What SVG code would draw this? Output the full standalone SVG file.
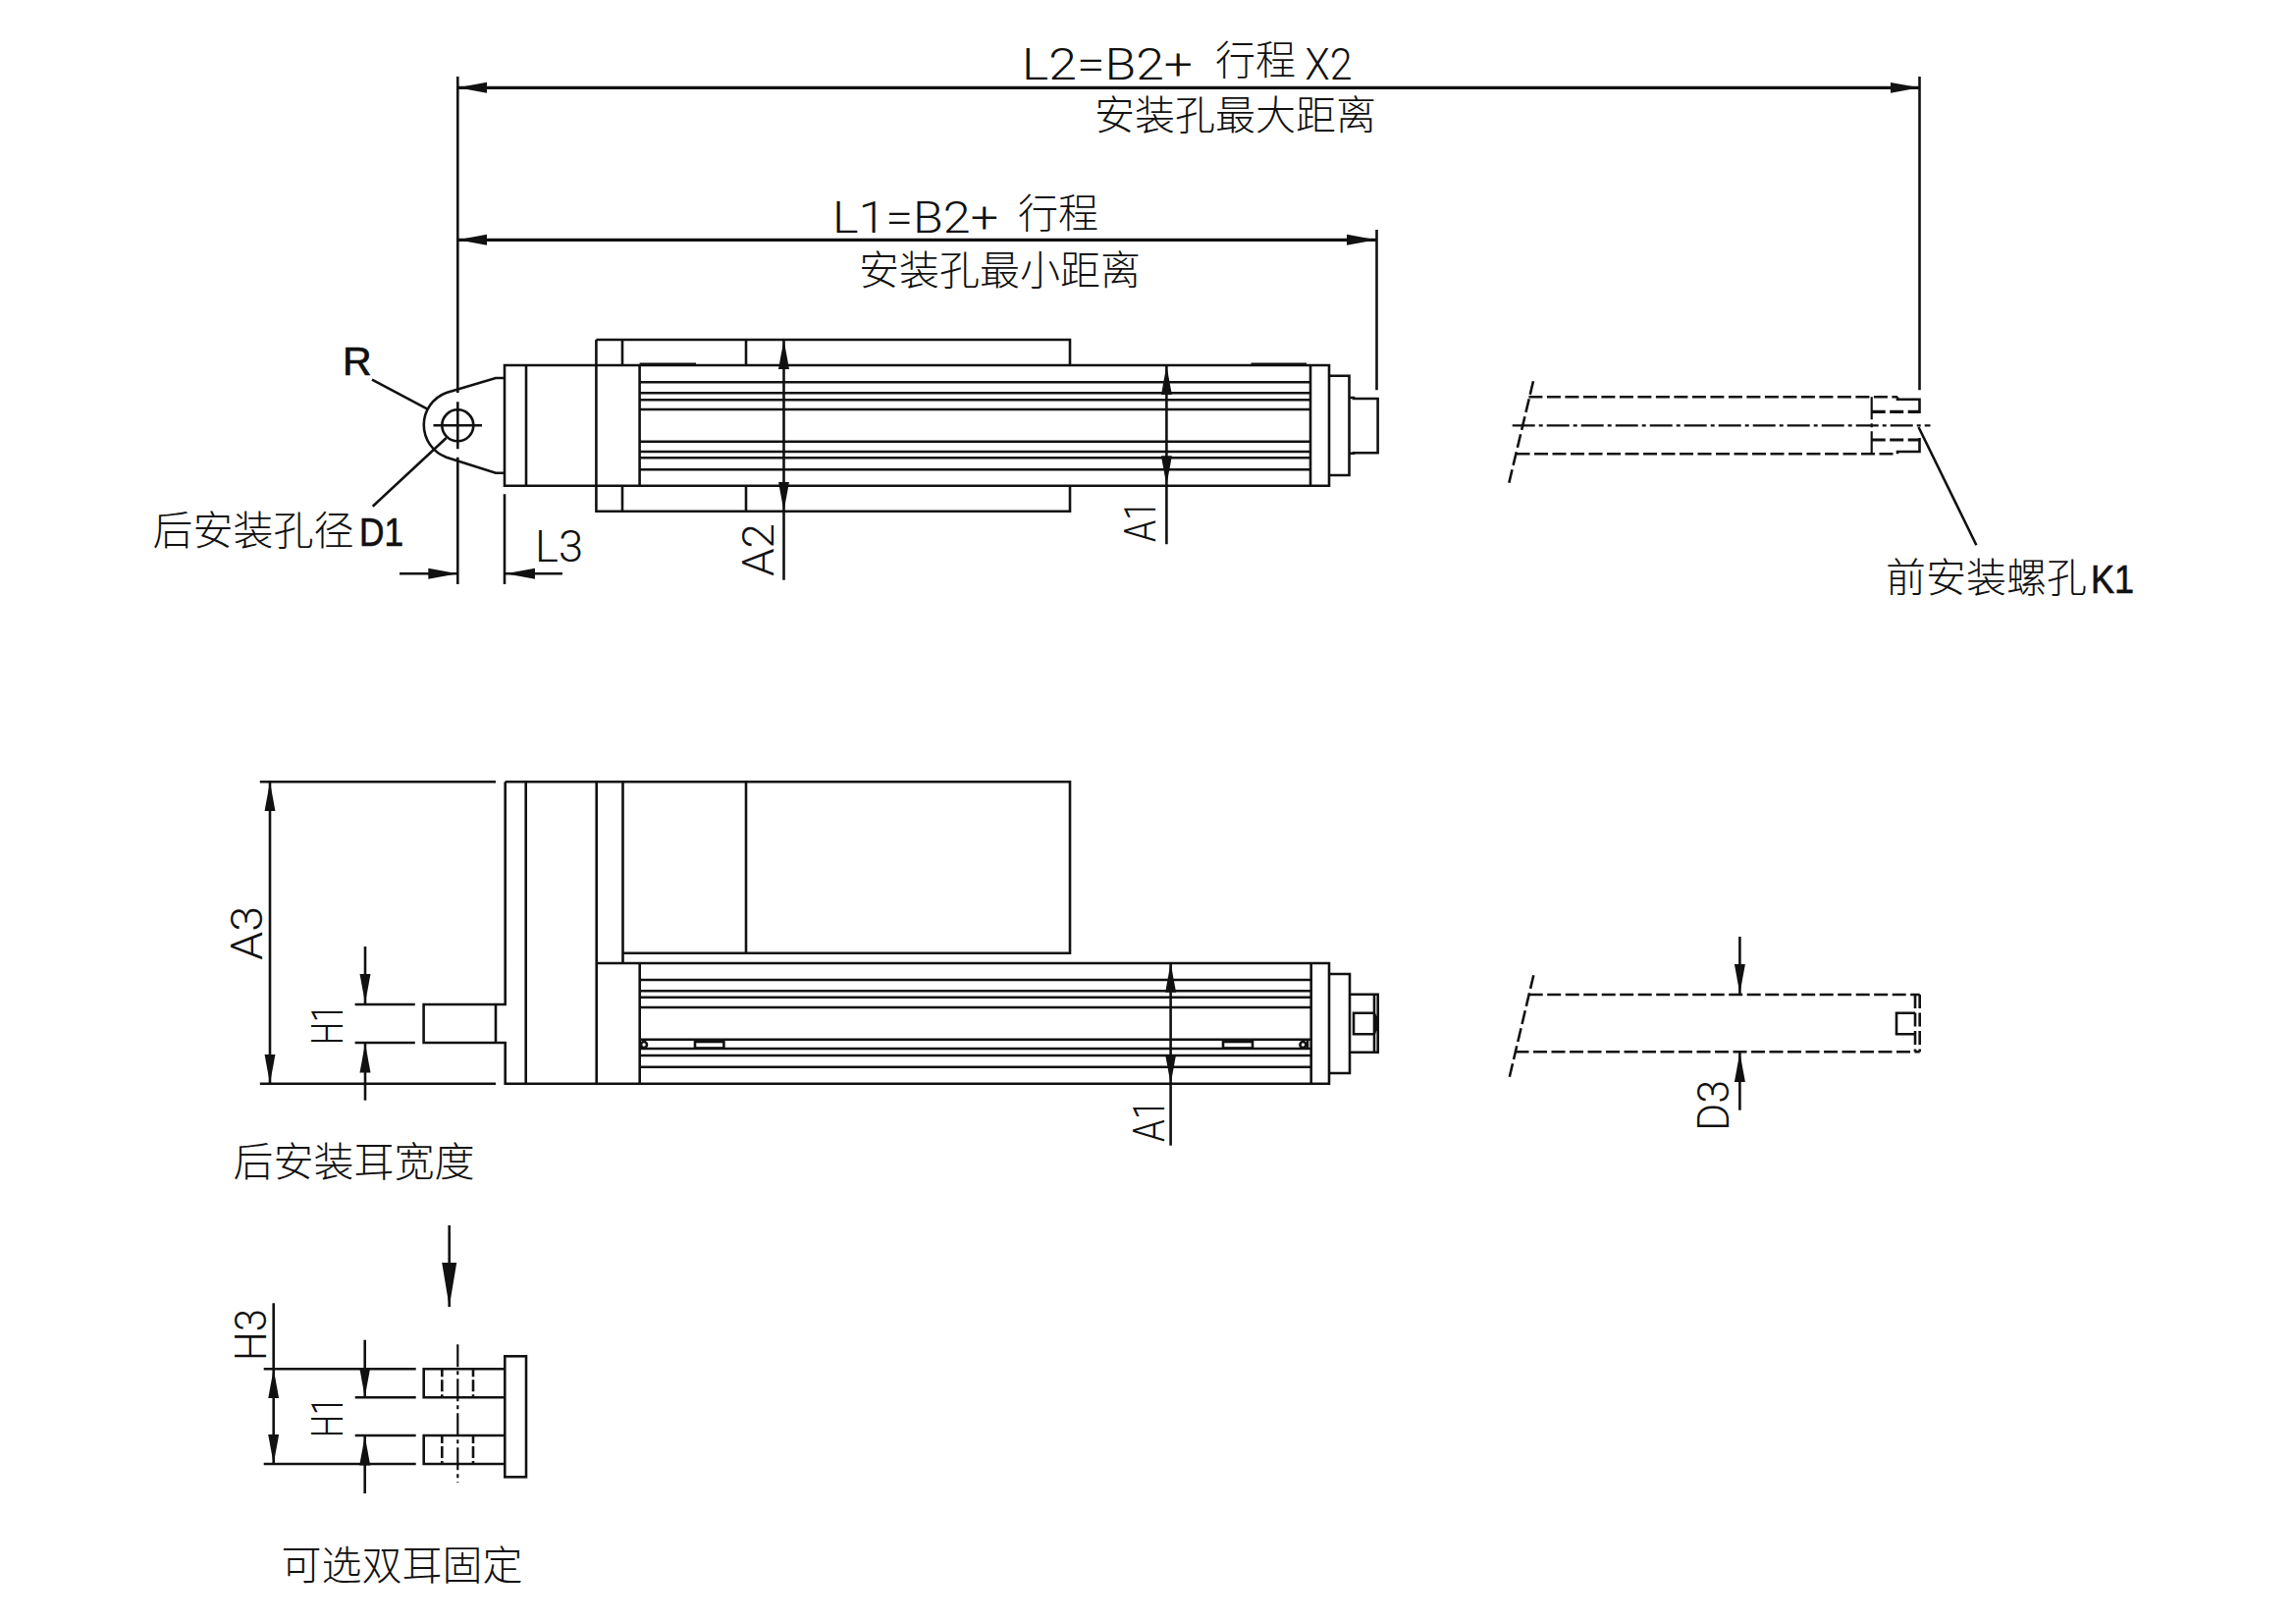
<svg xmlns="http://www.w3.org/2000/svg" width="2339" height="1653" viewBox="0 0 2339 1653">
<style>
.l{fill:none;stroke:#111;stroke-width:2.6}
.t{fill:none;stroke:#111;stroke-width:3.2}
.d{fill:none;stroke:#111;stroke-width:2.6;stroke-dasharray:14 4.5}
.c{fill:none;stroke:#111;stroke-width:2.2;stroke-dasharray:23 4 4 4}
.a{marker-end:url(#ah)}
.b{marker-start:url(#ah);marker-end:url(#ah)}
.cad{font-family:"Roboto","Liberation Sans",sans-serif;font-weight:300;fill:#111}
.cjk{font-family:"Noto Sans CJK SC",sans-serif;font-weight:300;font-size:41px;fill:#111}
.bd{font-family:"Liberation Sans",sans-serif;font-weight:400;font-size:41px;fill:#111;stroke:#111;stroke-width:.7}
</style>
<defs>
<marker id="ah" markerUnits="userSpaceOnUse" markerWidth="31" markerHeight="12" refX="30" refY="6" orient="auto-start-reverse"><path d="M0 .5L30 6L0 11.5z" fill="#111"/></marker>
<marker id="ab" markerUnits="userSpaceOnUse" markerWidth="46" markerHeight="16" refX="45" refY="8" orient="auto-start-reverse"><path d="M0 .5L45 8L0 15.5z" fill="#111"/></marker>
</defs>
<rect width="2339" height="1653" fill="#fff"/>
<g id="top-view">
<path class="l" d="M514 372H1354V494.7H514zM536 372V494.7M607.4 346H1090V372M607.4 346V520.7H1090V494.7M634 346V372M634 494.7V520.7M760 346V372M760 494.7V520.7M651.6 372V494.7M1335 372V494.7"/>
<path class="l" d="M651.6 389.3H1335M651.6 400.3H1335M651.6 407.3H1335M651.6 417H1335M651.6 449.7H1335M651.6 460H1335M651.6 466.3H1335M651.6 478.3H1335"/>
<path class="t" d="M651.6 371H709M1274.5 371H1331"/>
<path class="l" d="M1354 382.7H1374.5V484H1354M1374.5 405H1379V406H1403.6V461.3H1379V461.7H1374.5"/>
<path class="l" d="M514 385H505L454.7 400A35 35 0 0 0 454.7 465.7L505 481.7H514"/>
<circle class="l" cx="466.3" cy="433.3" r="16"/>
<path class="l" d="M466.3 409.3V457.3M441.5 433.3H491"/>
</g>
<g id="side-view">
<path class="l" d="M514.7 796.3H1090V970.7H634.5M514.7 796.3V1023H431.6V1062H514.7V1103.7H1354V981H607.7M505 1023V1062M535.7 796.3V1103.7M607.7 796.3V1103.7M634.5 796.3V981M760 796.3V970.7M651.7 981V1103.7M1335.7 981V1103.7"/>
<path class="l" d="M651.7 998H1335.7M651.7 1009.3H1335.7M651.7 1015.7H1335.7M651.7 1026H1335.7M651.7 1058.7H1335.7M651.7 1068H1335.7M651.7 1075H1335.7M651.7 1086.7H1335.7"/>
<rect class="l" x="708" y="1061" width="29.4" height="6.5"/>
<rect class="l" x="1246" y="1061" width="30" height="6.5"/>
<circle class="l" cx="656" cy="1064" r="3"/>
<circle class="l" cx="1327.4" cy="1064" r="3"/>
<path class="l" d="M1332 1059V1068"/>
<path class="l" d="M1354 992H1375V1093H1354M1375 1012.7H1403.7V1071.7H1375M1400 1012.7V1071.7M1400 1031.7H1379V1053.3H1400M1400 1031.7Q1404 1042 1400 1053.3"/>
</g>
<g id="rod-top">
<path class="d" d="M1557.4 404.3H1933M1544.5 462.3H1933"/>
<path class="d" d="M1562 388.3L1537.3 491.7"/>
<path class="l" d="M1933 404.3V406.7H1955.5V421M1933 462.3V460H1955.5V446"/>
<path class="c" d="M1540.7 433.3H1966.5"/>
<path class="c" d="M1906.7 404.3V462.3"/>
<path class="t" stroke-dasharray="14 4.5" d="M1906.7 419.3H1955.5M1906.7 448H1955.5"/>
</g>
<g id="rod-side">
<path class="d" d="M1557.7 1013H1955.7M1543.5 1071.3H1955.7M1562.3 993.3L1537.8 1096.7M1951 1013V1071.3M1955.7 1013V1071.3"/>
<path class="l" d="M1951 1031.7H1932V1053.3H1951"/>
</g>
<g id="double-ear">
<rect class="l" x="514.3" y="1381.3" width="21.7" height="123"/>
<path class="l" d="M514.3 1394.3H431.7V1423.3H514.3M514.3 1462H431.7V1491H514.3"/>
<path class="l" stroke-dasharray="8 3 12 3 8" d="M450.3 1394.3V1423.3M482 1394.3V1423.3M450.3 1462V1491M482 1462V1491"/>
<path class="c" stroke-dasharray="30 3 6 3" d="M466.3 1369.3V1510"/>
</g>
<g id="connectors">
<path class="l" d="M466.3 78V400M466.3 465.7V595M1955.5 78V397.3M1402.5 234V397.3"/>
<path class="t b" d="M466.3 89.3H1955.5"/>
<path class="t b" d="M466.3 244.3H1402"/>
<path class="l b" d="M798.5 346V520.7"/>
<path class="l b" d="M1188.4 372.3V494.3"/>
<path class="l" d="M798.5 520.7V590.7M1188.4 494.3V554.3M514 503.3V595"/>
<path class="l a" d="M407 584.3H466.3"/>
<path class="l a" d="M573 584.3H515"/>
<path class="l" d="M379 386.7L435.5 416.7M454.7 446L379.7 515.7M1954.5 435L2013.4 555.3"/>
<path class="l" d="M264.8 796.3H505M264.8 1103.7H505M361.6 1023H422.8M361.6 1062H422.8"/>
<path class="l b" d="M275 796.3V1103.7"/>
<path class="l b" d="M1192.6 980.7V1104"/>
<path class="l" d="M1192.6 1104V1166.7"/>
<path class="l a" d="M372 964V1022"/>
<path class="l a" d="M372 1120.7V1062.5"/>
<path class="l a" d="M1772.4 954V1012"/>
<path class="l a" d="M1772.4 1130.7V1072"/>
<path class="l" marker-end="url(#ab)" d="M457.7 1248V1331"/>
<path class="l" d="M278.7 1327.3V1394.3M268.7 1394.3H423.7M268.7 1491H423.7M361.7 1423.3H423.7M361.7 1462H423.7"/>
<path class="l b" d="M278.7 1394.3V1491"/>
<path class="l a" d="M371.7 1364.7V1423"/>
<path class="l a" d="M371.7 1521V1462.5"/>
</g>
<g id="labels">
<text class="cad" x="1041" y="80.5" font-size="44" textLength="174" lengthAdjust="spacingAndGlyphs">L2=B2+</text>
<text class="cjk" x="1238" y="76">行程</text>
<text class="cad" x="1329.5" y="80.5" font-size="44" textLength="48" lengthAdjust="spacingAndGlyphs">X2</text>
<text class="cjk" x="1115" y="132">安装孔最大距离</text>
<text class="cad" x="848" y="236.5" font-size="44" textLength="169" lengthAdjust="spacingAndGlyphs">L1=B2+</text>
<text class="cjk" x="1037" y="232">行程</text>
<text class="cjk" x="875" y="290">安装孔最小距离</text>
<text class="bd" x="349" y="381.7">R</text>
<text class="cjk" x="155.5" y="555">后安装孔径</text>
<text class="bd" x="366" y="556" textLength="45" lengthAdjust="spacingAndGlyphs">D1</text>
<text class="cjk" x="1921" y="603">前安装螺孔</text>
<text class="bd" x="2130" y="603.5" textLength="44" lengthAdjust="spacingAndGlyphs">K1</text>
<text class="cad" x="545" y="572.3" font-size="44" textLength="49" lengthAdjust="spacingAndGlyphs">L3</text>
<text class="cad" transform="translate(788 587) rotate(-90)" font-size="45" textLength="54" lengthAdjust="spacingAndGlyphs">A2</text>
<text class="cad" transform="translate(1177 552) rotate(-90)" font-size="45" textLength="42" lengthAdjust="spacingAndGlyphs">A1</text>
<text class="cad" transform="translate(266.7 978) rotate(-90)" font-size="45" textLength="55" lengthAdjust="spacingAndGlyphs">A3</text>
<text class="cad" transform="translate(349 1064) rotate(-90)" font-size="45" textLength="41" lengthAdjust="spacingAndGlyphs">H1</text>
<text class="cad" transform="translate(1186.4 1163) rotate(-90)" font-size="45" textLength="43" lengthAdjust="spacingAndGlyphs">A1</text>
<text class="cad" transform="translate(1760.5 1152) rotate(-90)" font-size="45" textLength="52" lengthAdjust="spacingAndGlyphs">D3</text>
<text class="cad" transform="translate(270.7 1386) rotate(-90)" font-size="45" textLength="53" lengthAdjust="spacingAndGlyphs">H3</text>
<text class="cad" transform="translate(348.7 1464) rotate(-90)" font-size="45" textLength="41" lengthAdjust="spacingAndGlyphs">H1</text>
<text class="cjk" x="237.5" y="1198">后安装耳宽度</text>
<text class="cjk" x="286.5" y="1609">可选双耳固定</text>
</g>
</svg>
